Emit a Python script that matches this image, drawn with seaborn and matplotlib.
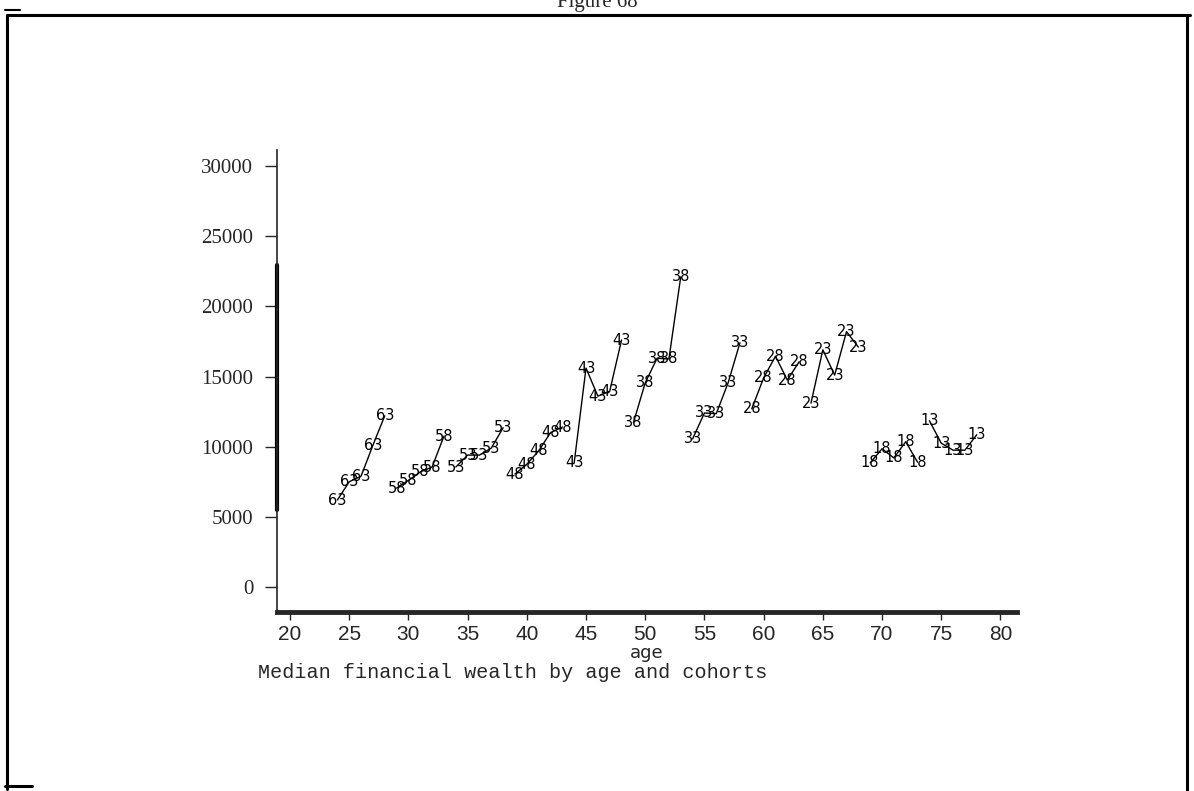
import matplotlib
matplotlib.use("Agg")
import matplotlib.pyplot as plt
from matplotlib.lines import Line2D
import pandas as pd
import seaborn as sns

# cohort (year of birth) and the ages at which each one was observed
cohorts = ["63", "58", "53", "48", "43", "38", "33", "28", "23", "18", "13"]
ages = [
    [24, 25, 26, 27, 28],
    [29, 30, 31, 32, 33],
    [34, 35, 36, 37, 38],
    [39, 40, 41, 42, 43],
    [44, 45, 46, 47, 48],
    [49, 50, 51, 52, 53],
    [54, 55, 56, 57, 58],
    [59, 60, 61, 62, 63],
    [64, 65, 66, 67, 68],
    [69, 70, 71, 72, 73],
    [74, 75, 76, 77, 78],
]
# median financial wealth
wealth = [
    [6200, 7500, 7900, 10100, 12200],
    [7050, 7600, 8200, 8550, 10750],
    [8550, 9400, 9400, 9900, 11350],
    [8050, 8750, 9700, 11000, 11400],
    [8850, 15600, 13600, 13950, 17600],
    [11700, 14550, 16300, 16250, 22100],
    [10550, 12400, 12350, 14550, 17400],
    [12700, 14900, 16450, 14750, 16050],
    [13100, 16900, 15100, 18200, 17100],
    [8850, 9850, 9200, 10350, 8900],
    [11850, 10250, 9750, 9750, 10850],
]

x_ticks = [20, 25, 30, 35, 40, 45, 50, 55, 60, 65, 70, 75, 80]
y_ticks = [0, 5000, 10000, 15000, 20000, 25000, 30000]

rows = []
for c, a_list, w_list in zip(cohorts, ages, wealth):
    for a, w in zip(a_list, w_list):
        rows.append({"cohort": c, "age": a, "wealth": w})
df = pd.DataFrame(rows)

sns.set_style("white")

fig = plt.figure(figsize=(11.94, 7.91), dpi=100)
ax = fig.add_axes([277 / 1194, 1 - 612 / 791, 740 / 1194, 462 / 791])

sns.lineplot(data=df, x="age", y="wealth", units="cohort", estimator=None,
             sort=False, color="black", lw=1, legend=False, ax=ax)

# cohort number used as the plotting symbol
for _, r in df.iterrows():
    ax.text(r["age"], r["wealth"], r["cohort"], ha="center", va="center",
            fontsize=10.5, family="DejaVu Sans", color="black")

ax.set_xlim(18.9, 81.4)
ax.set_ylim(-1780, 31140)

sns.despine(ax=ax)
ax.spines["left"].set_linewidth(1.2)
ax.spines["bottom"].set_linewidth(3.5)
# darker stretch of the axis line, as on the scanned page
ax.axvline(18.9, ymin=0.221, ymax=0.751, color="black", lw=3, clip_on=False)

ax.set_yticks(y_ticks)
ax.set_yticklabels([str(v) for v in y_ticks], family="Liberation Serif", fontsize=15)
ax.tick_params(axis="y", direction="out", length=9, width=1, pad=8, left=True)

ax.set_xticks(x_ticks)
ax.set_xticklabels([str(v) for v in x_ticks], family="Liberation Sans", fontsize=15)
ax.tick_params(axis="x", direction="out", length=6, width=1, pad=3, bottom=True)

ax.set_xlabel("age", fontsize=13, labelpad=0, family="DejaVu Sans")
ax.set_ylabel("")

fig.text(258 / 1194, 1 - 672 / 791, "Median financial wealth by age and cohorts",
         ha="left", va="center", family="Liberation Mono", fontsize=14.5)
fig.text(0.5, 1 - 2 / 791, "Figure 68", ha="center", va="center",
         family="Liberation Serif", fontsize=15)

# page frame of the scan
def frame(xs, ys, lw=2.2):
    fig.add_artist(Line2D([x / 1194 for x in xs], [1 - y / 791 for y in ys],
                          transform=fig.transFigure, color="black", lw=lw))

frame([7, 1190], [15, 15])
frame([7, 7], [15, 789])
frame([1187, 1187], [15, 791])
frame([5, 32], [786, 786])
frame([5, 20], [10, 10], lw=1.5)

fig.savefig("out.png", dpi=100, facecolor="white")
